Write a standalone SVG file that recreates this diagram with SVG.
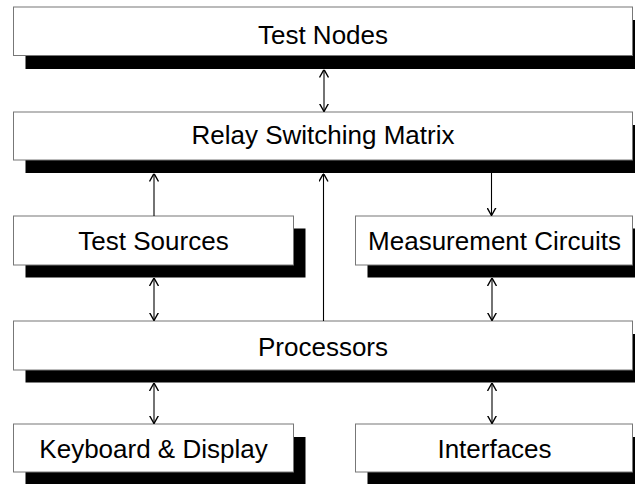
<svg xmlns="http://www.w3.org/2000/svg" width="635" height="484" viewBox="0 0 635 484">
<style>
.box{fill:#fff;stroke:#777;stroke-width:1}
.sh{fill:#000}
.t{font-family:"Liberation Sans",Arial,sans-serif;font-size:26px;fill:#000;text-anchor:middle}
.c{stroke:#000;stroke-width:1.1;fill:none}
</style>
<defs>
<marker id="ah" viewBox="0 0 8 10" markerWidth="8" markerHeight="10" refX="8" refY="5" orient="auto-start-reverse" markerUnits="userSpaceOnUse">
<path d="M0,0.5 L8,5 L0,9.5" fill="none" stroke="#000" stroke-width="1.4"/>
</marker>
</defs>
<rect width="635" height="484" fill="#fff"/>
<g id="test-nodes">
<rect class="sh" x="25.5" y="20" width="619" height="49"/>
<rect class="box" x="13.5" y="7" width="619" height="48.5"/>
<text class="t" x="323" y="44">Test Nodes</text>
</g>
<g id="relay-switching-matrix">
<rect class="sh" x="25.5" y="125" width="619" height="48"/>
<rect class="box" x="13.5" y="112" width="619" height="48"/>
<text class="t" x="323" y="143.5">Relay Switching Matrix</text>
</g>
<g id="test-sources">
<rect class="sh" x="25.5" y="228.5" width="280" height="49"/>
<rect class="box" x="13.5" y="216" width="280" height="49"/>
<text class="t" x="153.5" y="250">Test Sources</text>
</g>
<g id="measurement-circuits">
<rect class="sh" x="367.5" y="228.5" width="277" height="49"/>
<rect class="box" x="355.5" y="216" width="277" height="49"/>
<text class="t" x="494.5" y="250">Measurement Circuits</text>
</g>
<g id="processors">
<rect class="sh" x="25.5" y="334" width="619" height="48.5"/>
<rect class="box" x="13.5" y="321" width="619" height="49"/>
<text class="t" x="323" y="356">Processors</text>
</g>
<g id="keyboard-display">
<rect class="sh" x="25.5" y="437" width="280" height="48"/>
<rect class="box" x="13.5" y="424" width="280" height="48"/>
<text class="t" x="153.5" y="458">Keyboard &amp; Display</text>
</g>
<g id="interfaces">
<rect class="sh" x="367.5" y="437" width="277" height="48"/>
<rect class="box" x="355.5" y="424" width="277" height="48"/>
<text class="t" x="494.5" y="458">Interfaces</text>
</g>
<g id="connectors">
<line class="c" x1="324" y1="69.5" x2="324" y2="111.5" marker-start="url(#ah)" marker-end="url(#ah)"/>
<line class="c" x1="154" y1="216" x2="154" y2="173.5" marker-end="url(#ah)"/>
<line class="c" x1="323.5" y1="321" x2="323.5" y2="173.5" marker-end="url(#ah)"/>
<line class="c" x1="491.5" y1="173" x2="491.5" y2="215.5" marker-end="url(#ah)"/>
<line class="c" x1="154" y1="278" x2="154" y2="320.5" marker-start="url(#ah)" marker-end="url(#ah)"/>
<line class="c" x1="492" y1="278" x2="492" y2="320.5" marker-start="url(#ah)" marker-end="url(#ah)"/>
<line class="c" x1="154" y1="383" x2="154" y2="423.5" marker-start="url(#ah)" marker-end="url(#ah)"/>
<line class="c" x1="492" y1="383" x2="492" y2="423.5" marker-start="url(#ah)" marker-end="url(#ah)"/>
</g>
</svg>
